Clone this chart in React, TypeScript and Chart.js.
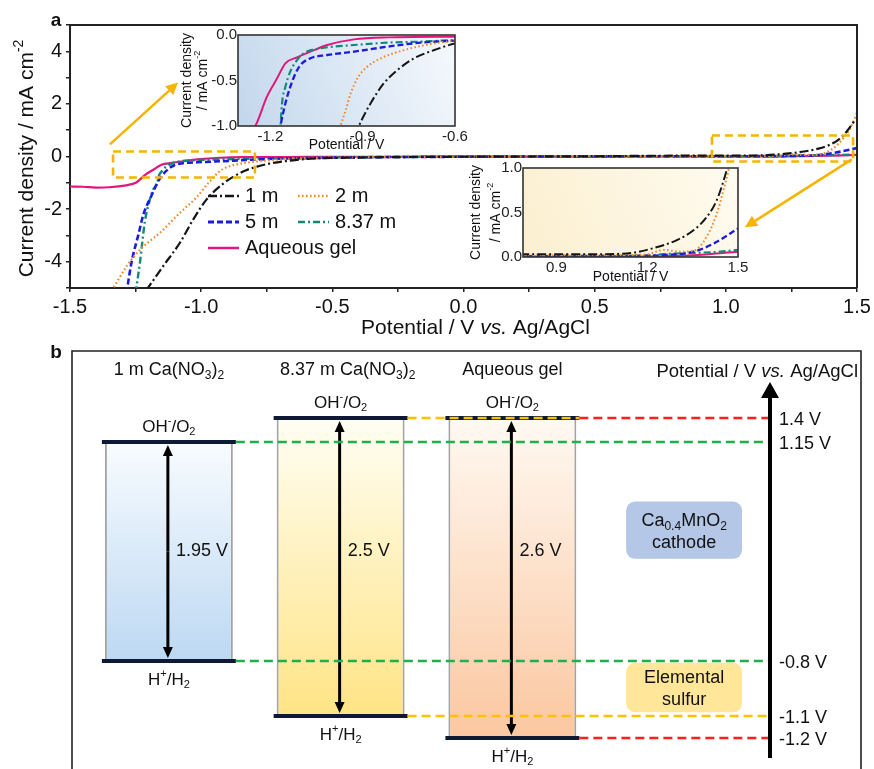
import React, { useEffect, useRef } from 'react';
import { Chart, registerables, LinearScale } from 'chart.js';

Chart.register(...registerables);

const FONT = '"Liberation Sans", Arial, Helvetica, sans-serif';
Chart.defaults.font.family = FONT;
Chart.defaults.color = '#111';

// ---------------- Panel a data (potential V vs Ag/AgCl, current density mA cm-2) ----------------
const oneMV = [-1.21, -1.145, -1.081, -1.03, -0.979, -0.912, -0.874, -0.831, -0.787, -0.733, -0.667, -0.597, -0.4, 0, 0.5, 0.8, 1.0, 1.133, 1.221, 1.298, 1.353, 1.397, 1.43, 1.463, 1.49];
const oneMJ = [-5.1, -4.17, -3.28, -2.39, -1.63, -1.0, -0.75, -0.53, -0.385, -0.256, -0.165, -0.092, -0.04, -0.01, 0.01, 0.03, 0.03, 0.04, 0.1, 0.19, 0.3, 0.45, 0.64, 0.98, 1.35];

const twoMV = [-1.34, -1.284, -1.233, -1.157, -1.081, -1.017, -0.972, -0.955, -0.939, -0.917, -0.885, -0.841, -0.765, -0.678, -0.597, -0.4, 0, 0.8, 1.1, 1.2, 1.254, 1.309, 1.353, 1.397, 1.43, 1.452, 1.469, 1.485, 1.5];
const twoMJ = [-5.1, -4.17, -3.54, -2.9, -2.14, -1.55, -1.0, -0.824, -0.641, -0.476, -0.348, -0.256, -0.165, -0.099, -0.062, -0.03, -0.01, 0.02, 0.02, 0.03, 0.08, 0.06, 0.07, 0.23, 0.49, 0.75, 0.98, 1.3, 1.65];

const fiveMV = [-1.285, -1.265, -1.24, -1.22, -1.19, -1.167, -1.151, -1.135, -1.118, -1.102, -1.07, -1.015, -0.928, -0.819, -0.711, -0.597, -0.4, 0, 0.8, 1.2, 1.243, 1.353, 1.419, 1.5];
const fiveMJ = [-5.2, -4.0, -3.0, -2.2, -1.5, -1.0, -0.751, -0.568, -0.421, -0.33, -0.256, -0.22, -0.183, -0.128, -0.084, -0.062, -0.03, -0.01, 0.01, 0.015, 0.02, 0.06, 0.15, 0.32];

const eightMV = [-1.25, -1.233, -1.215, -1.2, -1.185, -1.167, -1.162, -1.151, -1.135, -1.113, -1.091, -1.037, -0.928, -0.819, -0.711, -0.597, -0.4, 0, 0.8, 1.2, 1.243, 1.441, 1.5];
const eightMJ = [-5.2, -4.0, -2.5, -1.8, -1.3, -1.0, -0.75, -0.568, -0.4, -0.275, -0.2, -0.147, -0.11, -0.084, -0.073, -0.055, -0.03, -0.01, 0.005, 0.015, 0.03, 0.06, 0.08];

const gelV = [-1.5, -1.45, -1.4, -1.35, -1.3, -1.27, -1.249, -1.211, -1.178, -1.151, -1.113, -1.07, -1.015, -0.928, -0.819, -0.597, -0.3, 0, 0.8, 1.2, 1.35, 1.5];
const gelJ = [-1.14, -1.15, -1.18, -1.17, -1.12, -1.06, -1.0, -0.678, -0.476, -0.311, -0.245, -0.183, -0.11, -0.048, -0.026, -0.018, -0.01, -0.005, 0, 0.005, 0.02, 0.06];

const seriesLabels = ['1 m', '2 m', '5 m', '8.37 m', 'Aqueous gel'];
const seriesV = [oneMV, twoMV, fiveMV, eightMV, gelV];
const seriesJ = [oneMJ, twoMJ, fiveMJ, eightMJ, gelJ];

// zoom windows and arrows (data units of the main plot)
const negBoxV = [-1.336, -0.795];
const negBoxJ = [-0.8, 0.19];
const posBoxV = [0.947, 1.485];
const posBoxJ = [-0.19, 0.8];
const negArrowV = [-1.348, -1.088];
const negArrowJ = [0.46, 2.81];
const posArrowV = [1.48, 1.073];
const posArrowJ = [-0.11, -2.69];

// inset tick values
const insetNegTicksV = [-1.2, -0.9, -0.6];
const insetNegTicksJ = [-1.0, -0.5, 0.0];
const insetPosTicksV = [0.9, 1.2, 1.5];
const insetPosTicksJ = [0.0, 0.5, 1.0];

// ---------------- Panel b data ----------------
const electrolytes = ['1 m Ca(NO_{3})_{2}', '8.37 m Ca(NO_{3})_{2}', 'Aqueous gel', ''];
const windowTop = [1.15, 1.4, 1.4];
const windowBottom = [-0.8, -1.1, -1.2];
const cathodeRange = [0.11, 0.62];
const sulfurRange = [-1.08, -0.81];

// ---------------- styles ----------------
const seriesStyle = [
  { color: '#151515', dash: [9, 3, 2, 3], width: 2.2, cap: 'butt' },
  { color: '#F0892A', dash: [1.6, 2.4], width: 2.2, cap: 'butt' },
  { color: '#1C1CE0', dash: [6, 3], width: 2.6, cap: 'butt' },
  { color: '#15877A', dash: [7, 3, 2, 3], width: 2.4, cap: 'butt' },
  { color: '#E2177C', dash: [], width: 2.2, cap: 'butt' },
];
const GUIDE = '#F6B400';
const boxGradients = [
  ['#F8FCFF', '#BDD8F2'],
  ['#FFFEF3', '#FFE485'],
  ['#FFF9F2', '#FBC7A0'],
];
const guideColors = ['#1DB04B', '#FFC000', '#FF1F1F'];

// ---------------- helpers ----------------
type Seg = { t: string; s?: 'sub' | 'sup'; i?: boolean };
function parseRich(s: string): Seg[] {
  const out: Seg[] = [];
  const re = /([_^~])\{([^}]*)\}/g;
  let last = 0;
  let m: RegExpExecArray | null;
  while ((m = re.exec(s))) {
    if (m.index > last) out.push({ t: s.slice(last, m.index) });
    out.push({ t: m[2], s: m[1] === '_' ? 'sub' : m[1] === '^' ? 'sup' : undefined, i: m[1] === '~' });
    last = re.lastIndex;
  }
  if (last < s.length) out.push({ t: s.slice(last) });
  return out;
}

function drawRich(ctx: CanvasRenderingContext2D, str: string, x: number, y: number, size: number, align: 'left' | 'center' | 'right' = 'left', bold = false, color = '#111') {
  const segs = parseRich(str);
  ctx.save();
  ctx.fillStyle = color;
  ctx.textBaseline = 'middle';
  ctx.textAlign = 'left';
  const fontFor = (g: Seg) => `${g.i ? 'italic ' : ''}${bold ? 'bold ' : ''}${g.s ? Math.round(size * 0.66) : size}px ${FONT}`;
  let total = 0;
  const widths = segs.map((g) => {
    ctx.font = fontFor(g);
    const w = ctx.measureText(g.t).width;
    total += w;
    return w;
  });
  let cx = align === 'center' ? x - total / 2 : align === 'right' ? x - total : x;
  segs.forEach((g, k) => {
    ctx.font = fontFor(g);
    const dy = g.s === 'sub' ? size * 0.3 : g.s === 'sup' ? -size * 0.38 : 0;
    ctx.fillText(g.t, cx, y + dy);
    cx += widths[k];
  });
  ctx.restore();
}

function drawArrow(ctx: CanvasRenderingContext2D, x1: number, y1: number, x2: number, y2: number, color: string, width: number, headLen: number, headHalf: number) {
  const ang = Math.atan2(y2 - y1, x2 - x1);
  const bx = x2 - Math.cos(ang) * headLen;
  const by = y2 - Math.sin(ang) * headLen;
  ctx.save();
  ctx.strokeStyle = color;
  ctx.fillStyle = color;
  ctx.lineWidth = width;
  ctx.setLineDash([]);
  ctx.beginPath();
  ctx.moveTo(x1, y1);
  ctx.lineTo(bx, by);
  ctx.stroke();
  ctx.beginPath();
  ctx.moveTo(x2, y2);
  ctx.lineTo(bx + Math.sin(ang) * headHalf, by - Math.cos(ang) * headHalf);
  ctx.lineTo(bx - Math.sin(ang) * headHalf, by + Math.cos(ang) * headHalf);
  ctx.closePath();
  ctx.fill();
  ctx.restore();
}

function lineDatasets(width = 1) {
  return seriesStyle.map((st, k) => ({
    label: seriesLabels[k],
    data: seriesV[k].map((v, i) => ({ x: v, y: seriesJ[k][i] })),
    borderColor: st.color,
    borderDash: st.dash,
    borderWidth: st.width * width,
    borderCapStyle: st.cap,
    pointRadius: 0,
    cubicInterpolationMode: 'monotone',
    fill: false,
  }));
}

// ---------------- custom potential scale for panel b ----------------
class WarpScale extends LinearScale {
  static id = 'warp';
  static defaults = LinearScale.defaults;
  warp(v: number): number {
    const a: number[][] = (this.options as any).anchors;
    let k = 0;
    while (k < a.length - 2 && v > a[k + 1][0]) k++;
    const [v0, d0] = a[k];
    const [v1, d1] = a[k + 1];
    return d0 + ((v - v0) * (d1 - d0)) / (v1 - v0);
  }
  getPixelForValue(value: any) {
    if (value === null || value === undefined || Number.isNaN(+value)) return NaN;
    return this.getPixelForDecimal(this.warp(+value));
  }
}
Chart.register(WarpScale as any);

// ---------------- chart configs ----------------
function mainConfig(): any {
  const decor = {
    id: 'mainDecor',
    afterDatasetsDraw(chart: any) {
      const { ctx, chartArea: ca } = chart;
      ctx.save();
      ctx.strokeStyle = '#222';
      ctx.lineWidth = 2;
      ctx.beginPath();
      ctx.moveTo(ca.left, ca.top);
      ctx.lineTo(ca.right, ca.top);
      ctx.lineTo(ca.right, ca.bottom);
      ctx.stroke();
      ctx.restore();
    },
    afterDraw(chart: any) {
      const { ctx, chartArea: ca } = chart;
      const xs = chart.scales.x;
      const ys = chart.scales.y;
      // zoom boxes
      ctx.save();
      ctx.strokeStyle = GUIDE;
      ctx.lineWidth = 2.6;
      ctx.setLineDash([8, 5]);
      [[negBoxV, negBoxJ], [posBoxV, posBoxJ]].forEach(([bv, bj]) => {
        const x0 = xs.getPixelForValue(bv[0]);
        const x1 = xs.getPixelForValue(bv[1]);
        const y0 = ys.getPixelForValue(bj[1]);
        const y1 = ys.getPixelForValue(bj[0]);
        ctx.strokeRect(x0, y0, x1 - x0, y1 - y0);
      });
      ctx.restore();
      // arrows
      [[negArrowV, negArrowJ], [posArrowV, posArrowJ]].forEach(([av, aj]) => {
        drawArrow(ctx, xs.getPixelForValue(av[0]), ys.getPixelForValue(aj[0]), xs.getPixelForValue(av[1]), ys.getPixelForValue(aj[1]), GUIDE, 2.6, 12, 6);
      });
      // legend
      const col = [ca.left + 138, ca.left + 228];
      const rows = [ca.top + 171, ca.top + 197, ca.top + 223];
      const place = [[0, 0], [1, 0], [0, 1], [1, 1], [0, 2]];
      chart.data.datasets.forEach((ds: any, k: number) => {
        const [c, r] = place[k];
        const lx = col[c];
        const ly = rows[r];
        ctx.save();
        ctx.strokeStyle = ds.borderColor;
        ctx.lineWidth = ds.borderWidth + 0.3;
        ctx.setLineDash(ds.borderDash);
        ctx.beginPath();
        ctx.moveTo(lx, ly);
        ctx.lineTo(lx + 31, ly);
        ctx.stroke();
        ctx.restore();
        drawRich(ctx, ds.label, lx + 37, ly, 20, 'left');
      });
      // axis titles
      drawRich(ctx, 'Potential / V ~{vs.} Ag/AgCl', (ca.left + ca.right) / 2 + 12, ca.bottom + 40, 21, 'center');
      ctx.save();
      ctx.translate(ca.left - 43, (ca.top + ca.bottom) / 2 + 2);
      ctx.rotate(-Math.PI / 2);
      drawRich(ctx, 'Current density / mA cm^{-2}', 0, 0, 21, 'center');
      ctx.restore();
      drawRich(ctx, 'a', ca.left - 14, ca.top - 4, 19, 'center', true);
    },
  };
  return {
    type: 'line',
    data: { datasets: lineDatasets() },
    options: {
      animation: false,
      responsive: false,
      maintainAspectRatio: false,
      layout: { padding: { top: 25, right: 17, left: 0, bottom: 0 } },
      plugins: { legend: { display: false }, tooltip: { enabled: false } },
      scales: {
        x: {
          type: 'linear',
          min: -1.5,
          max: 1.5,
          afterFit: (s: any) => { s.height = 52; },
          ticks: {
            stepSize: 0.25,
            autoSkip: false,
            maxRotation: 0,
            padding: 3,
            color: '#111',
            font: { size: 20 },
            callback: (v: number) => (Math.abs(v * 2 - Math.round(v * 2)) < 1e-6 ? v.toFixed(1) : ''),
          },
          grid: { drawOnChartArea: false, tickLength: 4, color: '#222', lineWidth: 1.5 },
          border: { color: '#222', width: 2 },
        },
        y: {
          type: 'linear',
          min: -5,
          max: 5,
          afterFit: (s: any) => { s.width = 70; },
          ticks: {
            stepSize: 1,
            autoSkip: false,
            padding: 4,
            color: '#111',
            font: { size: 20 },
            callback: (v: number) => (Math.round(v) % 2 === 0 && Math.abs(v) < 5 ? String(v) : ''),
          },
          grid: { drawOnChartArea: false, tickLength: 4, color: '#222', lineWidth: 1.5 },
          border: { color: '#222', width: 2 },
        },
      },
    },
    plugins: [decor],
  };
}

function insetConfig(o: {
  xMin: number; xMax: number; yMin: number; yMax: number;
  xTicks: number[]; yTicks: number[];
  pad: { top: number; right: number }; yW: number; xH: number;
  grad: string[]; t1: number; t2: number; titleGap: number;
}): any {
  const deco = {
    id: 'insetDeco',
    beforeDatasetsDraw(chart: any) {
      const { ctx, chartArea: ca } = chart;
      const g = ctx.createLinearGradient(ca.left, ca.bottom, ca.right, ca.top);
      g.addColorStop(0, o.grad[0]);
      g.addColorStop(1, o.grad[1]);
      ctx.save();
      ctx.fillStyle = g;
      ctx.fillRect(ca.left, ca.top, ca.right - ca.left, ca.bottom - ca.top);
      ctx.restore();
    },
    afterDraw(chart: any) {
      const { ctx, chartArea: ca } = chart;
      ctx.save();
      ctx.strokeStyle = '#333';
      ctx.lineWidth = 1.6;
      ctx.strokeRect(ca.left, ca.top, ca.right - ca.left, ca.bottom - ca.top);
      ctx.restore();
      drawRich(ctx, 'Potential / V', (ca.left + ca.right) / 2, ca.bottom + o.titleGap, 14, 'center');
      const cy = (ca.top + ca.bottom) / 2;
      ctx.save();
      ctx.translate(ca.left - o.t1, cy);
      ctx.rotate(-Math.PI / 2);
      drawRich(ctx, 'Current density', 0, 0, 14, 'center');
      ctx.restore();
      ctx.save();
      ctx.translate(ca.left - o.t2, cy);
      ctx.rotate(-Math.PI / 2);
      drawRich(ctx, '/ mA cm^{-2}', 0, 0, 14, 'center');
      ctx.restore();
    },
  };
  return {
    type: 'line',
    data: { datasets: lineDatasets(0.9) },
    options: {
      animation: false,
      responsive: false,
      maintainAspectRatio: false,
      layout: { padding: { top: o.pad.top, right: o.pad.right, left: 0, bottom: 0 } },
      plugins: { legend: { display: false }, tooltip: { enabled: false } },
      scales: {
        x: {
          type: 'linear',
          min: o.xMin,
          max: o.xMax,
          afterFit: (s: any) => { s.height = o.xH; },
          afterBuildTicks: (s: any) => { s.ticks = o.xTicks.map((v) => ({ value: v })); },
          ticks: { autoSkip: false, maxRotation: 0, padding: 2, color: '#222', font: { size: 15 }, callback: (v: number) => v.toFixed(1) },
          grid: { display: false, drawTicks: false },
          border: { display: false },
        },
        y: {
          type: 'linear',
          min: o.yMin,
          max: o.yMax,
          afterFit: (s: any) => { s.width = o.yW; },
          afterBuildTicks: (s: any) => { s.ticks = o.yTicks.map((v) => ({ value: v })); },
          ticks: { autoSkip: false, padding: 1, color: '#222', font: { size: 15 }, callback: (v: number) => v.toFixed(1) },
          grid: { display: false, drawTicks: false },
          border: { display: false },
        },
      },
    },
    plugins: [deco],
  };
}

function diagramConfig(): any {
  const deco = {
    id: 'diagram',
    afterDatasetsDraw(chart: any) {
      const { ctx, chartArea: ca } = chart;
      const ys = chart.scales.y;
      const meta = chart.getDatasetMeta(0);
      const boxes = windowTop.map((t, i) => {
        const el: any = meta.data[i];
        return {
          cx: el.x,
          l: el.x - el.width / 2 - 3,
          r: el.x + el.width / 2 + 3,
          top: ys.getPixelForValue(t),
          bot: ys.getPixelForValue(windowBottom[i]),
        };
      });
      const axisX = ca.right;
      const seg = (x1: number, y1: number, x2: number, y2: number) => {
        ctx.beginPath();
        ctx.moveTo(x1, y1);
        ctx.lineTo(x2, y2);
        ctx.stroke();
      };
      // level bars
      ctx.save();
      ctx.strokeStyle = '#0E1A35';
      ctx.lineWidth = 4;
      boxes.forEach((b) => {
        seg(b.l, b.top, b.r, b.top);
        seg(b.l, b.bot, b.r, b.bot);
      });
      ctx.restore();
      // double arrows
      boxes.forEach((b) => {
        const mid = (b.top + b.bot) / 2;
        drawArrow(ctx, b.cx - 1, mid, b.cx - 1, b.top + 3, '#000', 3, 11, 5);
        drawArrow(ctx, b.cx - 1, mid, b.cx - 1, b.bot - 3, '#000', 3, 11, 5);
      });
      // guide lines
      ctx.save();
      ctx.lineWidth = 2.5;
      ctx.setLineDash([9, 5]);
      [windowTop, windowBottom].forEach((levels, which) => {
        levels.forEach((L, i) => {
          let end = axisX;
          for (let j = i + 1; j < levels.length; j++) {
            if (levels[j] === L) { end = boxes[j].r; break; }
          }
          const py = which === 0 ? boxes[i].top : boxes[i].bot;
          ctx.strokeStyle = guideColors[i];
          seg(boxes[i].r, py, end, py);
        });
      });
      ctx.restore();
      // axis arrow
      drawArrow(ctx, axisX, ca.bottom - 11, axisX, ca.top + 31, '#000', 4, 16, 9);
      const levels = Array.from(new Set([...windowTop, ...windowBottom])).sort((a, b) => b - a);
      levels.forEach((L) => drawRich(ctx, `${L} V`, axisX + 9, ys.getPixelForValue(L) + 2, 18, 'left'));
      drawRich(ctx, 'Potential / V ~{vs.} Ag/AgCl', ca.right + 88, ca.top + 21, 18.5, 'right');
      // labels per window
      const gapY = ys.getPixelForValue((windowTop[0] + windowBottom[0]) / 2);
      boxes.forEach((b, i) => {
        drawRich(ctx, electrolytes[i], b.cx + (i === 1 ? 7 : 0), ca.top + 19, 18, 'center');
        drawRich(ctx, 'OH^{-}/O_{2}', b.cx, b.top - 15, 17, 'center');
        drawRich(ctx, 'H^{+}/H_{2}', b.cx, b.bot + 19, 17, 'center');
        drawRich(ctx, `${parseFloat((windowTop[i] - windowBottom[i]).toFixed(2))} V`, b.cx + 7, gapY, 18, 'left');
      });
      // label boxes text
      const c: any = chart.getDatasetMeta(1).data[3];
      const cc = (c.y + c.base) / 2;
      drawRich(ctx, 'Ca_{0.4}MnO_{2}', c.x, cc - 9, 18, 'center');
      drawRich(ctx, 'cathode', c.x, cc + 13, 18, 'center');
      const s: any = chart.getDatasetMeta(2).data[3];
      const sc = (s.y + s.base) / 2;
      drawRich(ctx, 'Elemental', s.x, sc - 10, 18, 'center');
      drawRich(ctx, 'sulfur', s.x, sc + 12, 18, 'center');
    },
    afterDraw(chart: any) {
      const { ctx, chartArea: ca } = chart;
      ctx.save();
      ctx.strokeStyle = '#222';
      ctx.lineWidth = 1.6;
      ctx.beginPath();
      ctx.moveTo(ca.left - 11, chart.height + 5);
      ctx.lineTo(ca.left - 11, ca.top);
      ctx.lineTo(ca.right + 91, ca.top);
      ctx.lineTo(ca.right + 91, chart.height + 5);
      ctx.stroke();
      ctx.restore();
      drawRich(ctx, 'b', ca.left - 27, ca.top + 2, 19, 'center', true);
    },
  };
  const windowBg = (context: any) => {
    const chart = context.chart;
    const i = context.dataIndex;
    if (!chart.chartArea || i > 2) return '#ddd';
    const ys = chart.scales.y;
    const g = chart.ctx.createLinearGradient(0, ys.getPixelForValue(windowTop[i]), 0, ys.getPixelForValue(windowBottom[i]));
    g.addColorStop(0, boxGradients[i][0]);
    g.addColorStop(1, boxGradients[i][1]);
    return g;
  };
  return {
    type: 'bar',
    data: {
      labels: electrolytes,
      datasets: [
        {
          data: windowTop.map((t, i) => [windowBottom[i], t]).concat([null as any]),
          backgroundColor: windowBg,
          borderColor: '#A3A3A3',
          borderWidth: { left: 2, right: 2, top: 0, bottom: 0 },
          borderSkipped: false,
          grouped: false,
          categoryPercentage: 1,
          barPercentage: 0.745,
        },
        {
          data: [null, null, null, cathodeRange],
          backgroundColor: '#B4C7E7',
          borderRadius: 9,
          borderSkipped: false,
          grouped: false,
          categoryPercentage: 1,
          barPercentage: 0.675,
        },
        {
          data: [null, null, null, sulfurRange],
          backgroundColor: '#FFE699',
          borderRadius: 9,
          borderSkipped: false,
          grouped: false,
          categoryPercentage: 1,
          barPercentage: 0.675,
        },
      ],
    },
    options: {
      animation: false,
      responsive: false,
      maintainAspectRatio: false,
      layout: { padding: { left: 83, right: 104, top: 16, bottom: 0 } },
      plugins: { legend: { display: false }, tooltip: { enabled: false } },
      scales: {
        x: { type: 'category', display: false, offset: true },
        y: {
          type: 'warp',
          display: false,
          min: -1.341,
          max: 2.1,
          anchors: [[-1.341, 0], [-1.2, 0.0742], [-1.1, 0.1268], [-0.8, 0.2584], [1.15, 0.7823], [1.4, 0.8397], [2.1, 1]],
        },
      },
    },
    plugins: [deco],
  };
}

export default function App() {
  const aRef = useRef<HTMLCanvasElement>(null);
  const i1Ref = useRef<HTMLCanvasElement>(null);
  const i2Ref = useRef<HTMLCanvasElement>(null);
  const bRef = useRef<HTMLCanvasElement>(null);

  useEffect(() => {
    const charts: Chart[] = [];
    charts.push(new Chart(aRef.current!, mainConfig()));
    charts.push(
      new Chart(
        i1Ref.current!,
        insetConfig({
          xMin: -1.305, xMax: -0.6, yMin: -1, yMax: 0,
          xTicks: insetNegTicksV, yTicks: insetNegTicksJ,
          pad: { top: 10, right: 15 }, yW: 68, xH: 29,
          grad: ['#C2D7EC', '#F6F9FD'], t1: 51, t2: 35, titleGap: 19,
        })
      )
    );
    charts.push(
      new Chart(
        i2Ref.current!,
        insetConfig({
          xMin: 0.79, xMax: 1.5, yMin: 0, yMax: 1,
          xTicks: insetPosTicksV, yTicks: insetPosTicksJ,
          pad: { top: 13, right: 22 }, yW: 63, xH: 33,
          grad: ['#FBEFCF', '#FFFBF0'], t1: 47, t2: 27, titleGap: 20,
        })
      )
    );
    charts.push(new Chart(bRef.current!, diagramConfig()));
    return () => charts.forEach((c) => c.destroy());
  }, []);

  const abs = (l: number, t: number, w: number, h: number): React.CSSProperties => ({ position: 'absolute', left: l, top: t, width: w, height: h });

  return (
    <div style={{ position: 'absolute', left: 0, top: 0, width: 874, height: 769, background: '#fff', overflow: 'hidden' }}>
      <canvas ref={aRef} width={874} height={340} style={abs(0, 0, 874, 340)} />
      <canvas ref={i1Ref} width={300} height={130} style={abs(170, 25, 300, 130)} />
      <canvas ref={i2Ref} width={300} height={135} style={abs(460, 155, 300, 135)} />
      <canvas ref={bRef} width={874} height={434} style={abs(0, 335, 874, 434)} />
    </div>
  );
}
